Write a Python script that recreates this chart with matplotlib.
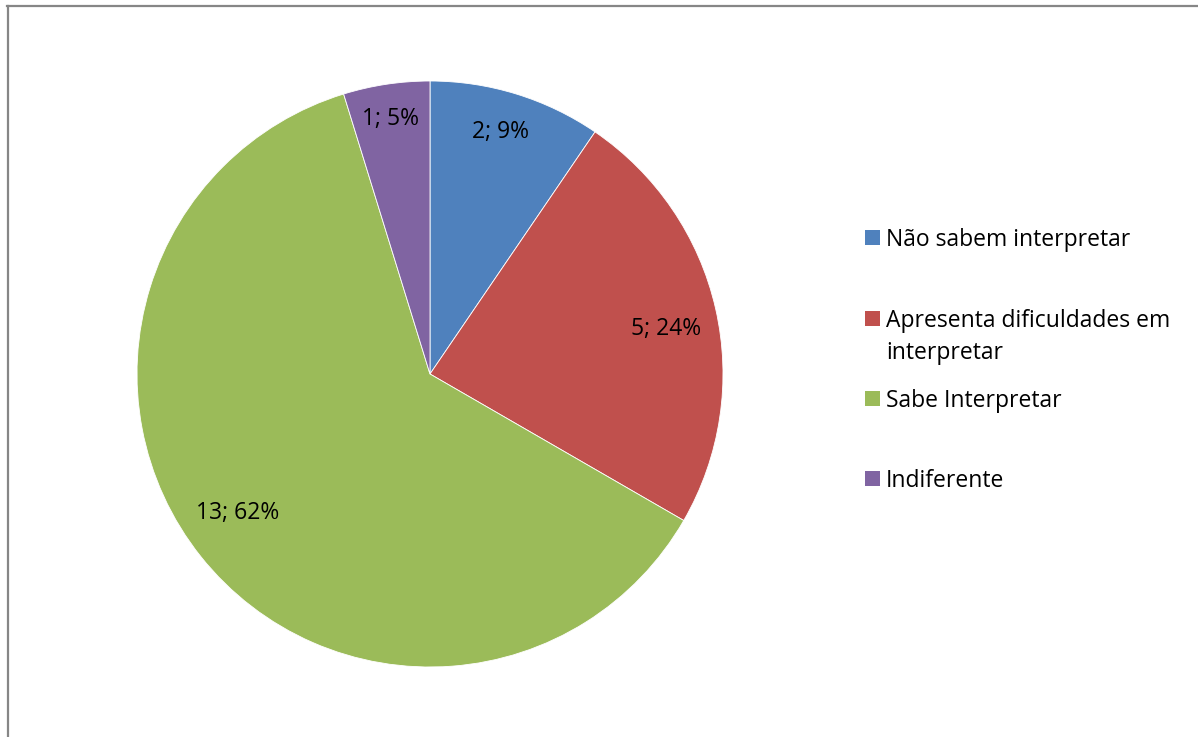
import matplotlib
matplotlib.use("Agg")
import matplotlib.pyplot as plt
from matplotlib.patches import Rectangle
from matplotlib.lines import Line2D
import numpy as np

plt.rcParams['font.family'] = ['Open Sans', 'DejaVu Sans']

# Survey answers
categories = ["Não sabem interpretar",
              "Apresenta dificuldades em\ninterpretar",
              "Sabe Interpretar",
              "Indiferente"]
counts = [2, 5, 13, 1]
percent_labels = ["9%", "24%", "62%", "5%"]
colors = ["#4F81BD", "#C0504D", "#9BBB59", "#8064A2"]

W, H = 1198, 737
fig = plt.figure(figsize=(W / 100, H / 100), dpi=100)

# Chart frame (only top and left edges fall inside the canvas)
fig.add_artist(Line2D([7 / W, 1], [1 - 6 / H, 1 - 6 / H], color="#868686", lw=1.6))
fig.add_artist(Line2D([7.5 / W, 7.5 / W], [0, 1 - 6 / H], color="#868686", lw=1.6))

# Pie axes
cx, cy, r = 430, 374, 293
ax = fig.add_axes([(cx - r) / W, (H - cy - r) / H, 2 * r / W, 2 * r / H])
wedges, _ = ax.pie(counts, colors=colors, startangle=90, counterclock=False,
                   radius=1.0, wedgeprops=dict(edgecolor="white", linewidth=0.6))
ax.set_xlim(-1, 1)
ax.set_ylim(-1, 1)
ax.set_aspect("equal")
ax.axis("off")

# Data labels "count; percent"
label_radius = [0.86, 0.82, 0.81, 0.88]
angle_shift = [1.0, -2.0, -2.8, 0.3]
fs = 16.5
for w, n, p, lr, da in zip(wedges, counts, percent_labels, label_radius, angle_shift):
    mid = np.deg2rad((w.theta1 + w.theta2) / 2 + da)
    ax.text(lr * np.cos(mid), lr * np.sin(mid), f"{n}; {p}",
            ha="center", va="center", fontsize=fs, color="black")

# Legend: square aligned with the first text line
sq = 15
line_gap = 32
baselines = [246, 327, 407, 487]
for lab, col, bl in zip(categories, colors, baselines):
    fig.add_artist(Rectangle((865 / W, (H - bl + 1) / H), sq / W, sq / H,
                             facecolor=col, edgecolor="none", transform=fig.transFigure))
    for i, line in enumerate(lab.split("\n")):
        fig.text(886 / W, (H - bl - i * line_gap) / H, line, ha="left",
                 va="baseline", fontsize=fs, color="black")

fig.savefig("out.png", dpi=100, facecolor="white")
